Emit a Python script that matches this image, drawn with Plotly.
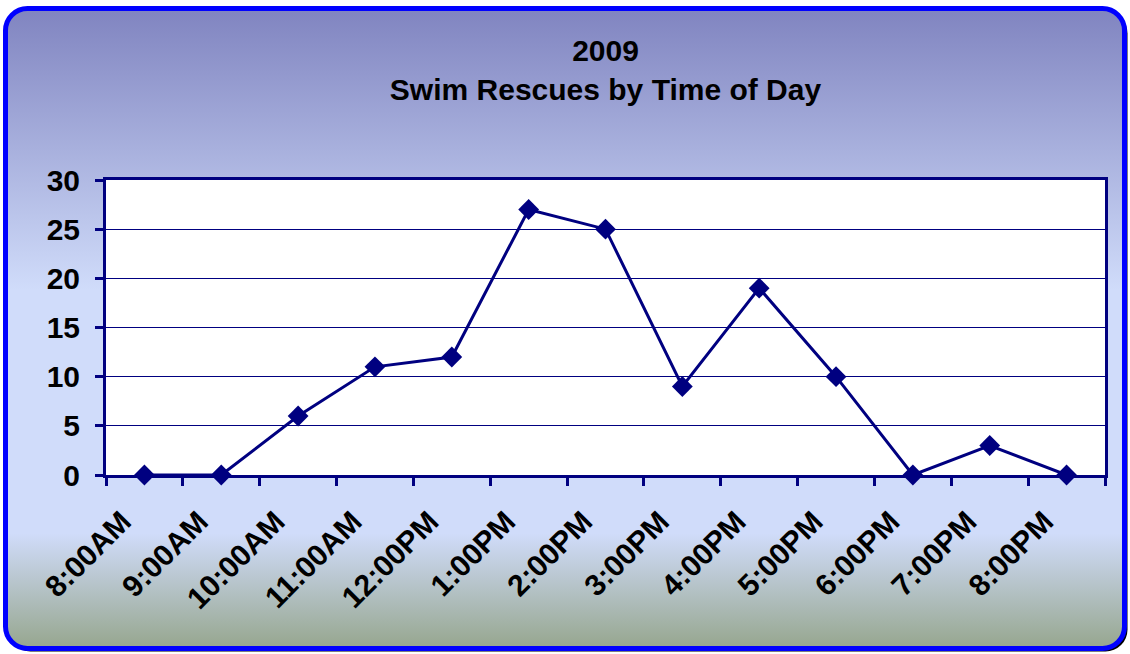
import base64
import plotly.graph_objects as go

# ---- data ----
hours = ["8:00AM", "9:00AM", "10:00AM", "11:00AM", "12:00PM", "1:00PM", "2:00PM",
         "3:00PM", "4:00PM", "5:00PM", "6:00PM", "7:00PM", "8:00PM"]
rescues = [0, 0, 6, 11, 12, 27, 25, 9, 19, 10, 0, 3, 0]
title_year = "2009"
title_main = "Swim Rescues by Time of Day"

W, H = 1130, 654
ML, MR, MT, MB = 106, 25, 180, 179
PW, PH = W - ML - MR, H - MT - MB
NAVY = "#000080"
FONT = "Liberation Sans, Arial, sans-serif"

svg = f"""<svg xmlns='http://www.w3.org/2000/svg' width='{W}' height='{H}' viewBox='0 0 {W} {H}'>
<defs><linearGradient id='g' x1='0' y1='0' x2='0' y2='1'>
<stop offset='0' stop-color='#8084C0'/>
<stop offset='0.44' stop-color='#D0DCFA'/>
<stop offset='0.82' stop-color='#D0DCFA'/>
<stop offset='1' stop-color='#96A68E'/>
</linearGradient></defs>
<rect x='8.5' y='11.5' width='1119' height='640' rx='22' fill='#000'/>
<rect x='5.5' y='8.5' width='1119' height='640' rx='22' fill='url(#g)' stroke='#0000FF' stroke-width='5'/>
</svg>"""
src = "data:image/svg+xml;base64," + base64.b64encode(svg.encode()).decode()

fig = go.Figure()
fig.add_trace(go.Scatter(
    x=hours, y=rescues, mode="lines+markers",
    line=dict(color=NAVY, width=3),
    marker=dict(symbol="diamond", size=16, color=NAVY),
    cliponaxis=False, hoverinfo="skip",
))

fig.add_layout_image(dict(
    source=src, xref="paper", yref="paper",
    x=-ML / PW, y=1 + MT / PH, sizex=W / PW, sizey=H / PH,
    xanchor="left", yanchor="top", sizing="stretch", layer="below",
))
fig.add_shape(type="rect", xref="paper", yref="paper", x0=0, x1=1, y0=0, y1=1,
              fillcolor="white", line=dict(width=0), layer="below")

fig.update_layout(
    width=W, height=H,
    margin=dict(l=ML, r=MR, t=MT, b=MB),
    paper_bgcolor="white", plot_bgcolor="white",
    showlegend=False,
    title=dict(
        text=f"{title_year}<br>{title_main}",
        x=0.5, xref="paper", xanchor="center",
        y=1 - 61 / H, yanchor="middle",
        font=dict(family=FONT, size=30, color="black", weight="bold"),
    ),
    xaxis=dict(
        type="category", tickson="boundaries",
        range=[-0.5, len(hours) - 0.5],
        showline=True, linecolor=NAVY, linewidth=3, mirror=True,
        ticks="outside", ticklen=8, tickwidth=3, tickcolor=NAVY,
        tickangle=-45, ticklabelstandoff=14, ticklabelshift=-22,
        tickfont=dict(family=FONT, size=30, color="black", weight="bold"),
        showgrid=False, zeroline=False,
    ),
    yaxis=dict(
        range=[0, 30], dtick=5,
        showline=True, linecolor=NAVY, linewidth=3, mirror=True,
        ticks="outside", ticklen=8, tickwidth=3, tickcolor=NAVY,
        ticklabelstandoff=9,
        tickfont=dict(family=FONT, size=30, color="black", weight="bold"),
        showgrid=True, gridcolor=NAVY, gridwidth=1, zeroline=False,
    ),
)

fig.write_html("out.html", config={"displayModeBar": False},
               post_script="document.body.style.margin='0';")
